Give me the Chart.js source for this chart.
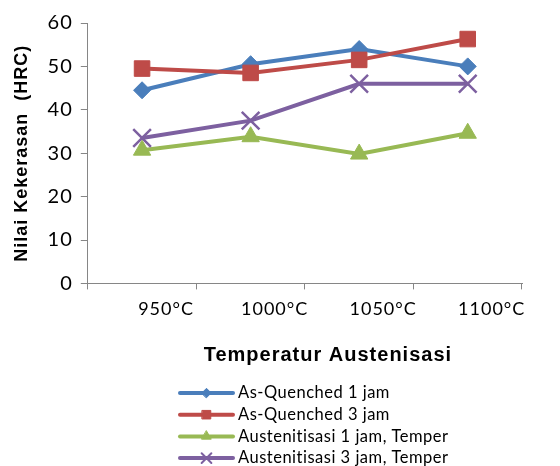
<!DOCTYPE html>
<html>
<head>
<meta charset="utf-8">
<title>Nilai Kekerasan vs Temperatur Austenisasi</title>
<script src="https://cdn.jsdelivr.net/npm/chart.js@4.4.1/dist/chart.umd.min.js"></script>
<style>
  html, body { margin: 0; padding: 0; background: #ffffff; }
  #wrap { width: 560px; height: 466px; }
</style>
</head>
<body>
<div id="wrap"><canvas id="chart" width="560" height="466"></canvas></div>
<script>
// Austenitizing temperatures (categories)
const temperatures = ['950°C', '1000°C', '1050°C', '1100°C'];

// Hardness values (HRC) per treatment
const asQuenched1Jam = [44.5, 50.5, 54.0, 50.0];
const asQuenched3Jam = [49.5, 48.5, 51.5, 56.3];
const austenitisasi1JamTemper = [30.7, 33.8, 29.8, 34.6];
const austenitisasi3JamTemper = [33.5, 37.5, 46.0, 46.0];

const seriesNames = [
  'As-Quenched 1 jam',
  'As-Quenched 3 jam',
  'Austenitisasi 1 jam, Temper',
  'Austenitisasi 3 jam, Temper'
];

// Y axis range and step
const yMin = 0;
const yMax = 60;
const yStep = 10;

const FONT = 'Lato, "Liberation Sans", sans-serif';
const BOLD_FONT = '"Liberation Sans", Arial, sans-serif';
const AXIS_GREY = '#868686';
const TEXT_SPACING = '1px';

function series(label, data, color, style, radius, pBorder, order) {
  return {
    label, data,
    borderColor: color,
    backgroundColor: color,
    borderWidth: 4,
    tension: 0,
    pointStyle: style,
    pointRadius: radius,
    pointHoverRadius: radius,
    pointBackgroundColor: color,
    pointBorderColor: color,
    pointBorderWidth: pBorder,
    order
  };
}

// Slightly open letter spacing for all chart text
const textSpacing = {
  id: 'textSpacing',
  beforeUpdate(chart) { chart.ctx.letterSpacing = TEXT_SPACING; },
  beforeDraw(chart) { chart.ctx.letterSpacing = TEXT_SPACING; }
};

// Draws the x axis title and a vertical key (line + marker per series) below the plot
const keyAndTitle = {
  id: 'keyAndTitle',
  afterDraw(chart) {
    const ctx = chart.ctx;
    const area = chart.chartArea;
    ctx.save();
    ctx.fillStyle = '#000000';
    ctx.textBaseline = 'middle';

    // x axis title
    ctx.font = 'bold 20px ' + BOLD_FONT;
    ctx.textAlign = 'center';
    ctx.fillText('Temperatur Austenisasi', (area.left + area.right) / 2 + 23, 355);

    // key
    const lineX0 = 180, lineX1 = 233, textX = 238, y0 = 393, rowGap = 21.7;
    chart.data.datasets.forEach((ds, i) => {
      const y = y0 + i * rowGap;
      ctx.strokeStyle = ds.borderColor;
      ctx.lineWidth = 4;
      ctx.lineCap = 'round';
      ctx.beginPath();
      ctx.moveTo(lineX0, y);
      ctx.lineTo(lineX1, y);
      ctx.stroke();
      ctx.fillStyle = ds.borderColor;
      ctx.strokeStyle = ds.borderColor;
      ctx.lineWidth = ds.pointStyle === 'crossRot' ? 2 : 1;
      Chart.helpers.drawPoint(ctx, {
        pointStyle: ds.pointStyle,
        radius: ds.pointRadius * 0.55,
        rotation: 0,
        borderWidth: ctx.lineWidth
      }, (lineX0 + lineX1) / 2, y);
      ctx.fillStyle = '#000000';
      ctx.font = '16.5px ' + FONT;
      ctx.letterSpacing = '0.5px';
      ctx.textAlign = 'left';
      ctx.fillText(ds.label, textX, y);
      ctx.letterSpacing = TEXT_SPACING;
    });
    ctx.restore();
  }
};

new Chart(document.getElementById('chart'), {
  type: 'line',
  data: {
    labels: temperatures,
    datasets: [
      series(seriesNames[0], asQuenched1Jam, '#4A7EBB', 'rectRot', 8.5, 1, 4),
      series(seriesNames[1], asQuenched3Jam, '#BE4B48', 'rect', 11, 1, 3),
      series(seriesNames[2], austenitisasi1JamTemper, '#98B954', 'triangle', 10, 1, 2),
      series(seriesNames[3], austenitisasi3JamTemper, '#7D60A0', 'crossRot', 12.5, 2.5, 1)
    ]
  },
  options: {
    responsive: false,
    animation: false,
    layout: { padding: { top: 23, right: 38, bottom: 137, left: 0 } },
    plugins: {
      legend: { display: false },
      tooltip: { enabled: false }
    },
    scales: {
      x: {
        type: 'category',
        offset: true,
        grid: {
          offset: true,
          drawOnChartArea: false,
          drawTicks: true,
          tickLength: 6,
          color: AXIS_GREY
        },
        border: { color: AXIS_GREY, width: 1 },
        ticks: {
          color: '#000000',
          font: { family: FONT, size: 18 },
          padding: 9,
          labelOffset: 24,
          maxRotation: 0,
          autoSkip: false
        }
      },
      y: {
        min: yMin,
        max: yMax,
        grid: {
          drawOnChartArea: false,
          drawTicks: true,
          tickLength: 7,
          color: AXIS_GREY
        },
        border: { color: AXIS_GREY, width: 1 },
        ticks: {
          stepSize: yStep,
          color: '#000000',
          font: { family: FONT, size: 20 },
          padding: 8
        },
        title: {
          display: true,
          text: 'Nilai Kekerasan  (HRC)',
          color: '#000000',
          font: { family: BOLD_FONT, size: 18, weight: 'bold' },
          padding: { top: 11, bottom: 7 }
        }
      }
    }
  },
  plugins: [textSpacing, keyAndTitle]
});
</script>
</body>
</html>
